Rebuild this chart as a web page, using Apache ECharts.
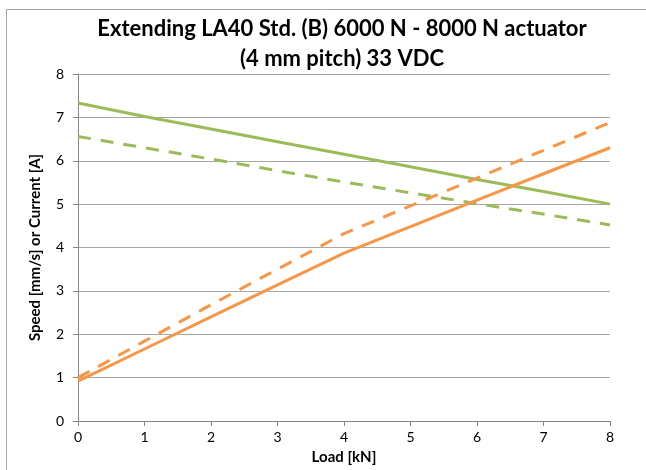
<!DOCTYPE html>
<html>
<head>
<meta charset="utf-8">
<script src="https://cdn.jsdelivr.net/npm/echarts@6/dist/echarts.min.js"></script>
<style>html,body{margin:0;padding:0;background:#fff;}#c{width:646px;height:470px;}</style>
</head>
<body>
<div id="c"></div>
<script>
var loads = [0, 1, 2, 3, 4, 5, 6, 7, 8];
var greenSolid = [7.33, 7.02, 6.73, 6.44, 6.15, 5.86, 5.57, 5.29, 5.0];
var greenDashed = [6.56, 6.30, 6.04, 5.77, 5.51, 5.26, 5.01, 4.77, 4.52];
var orangeSolid = [0.92, 1.66, 2.40, 3.14, 3.87, 4.48, 5.09, 5.70, 6.30];
var orangeDashed = [1.0, 1.84, 2.68, 3.50, 4.32, 4.96, 5.60, 6.24, 6.88];
var xTicks = [0, 1, 2, 3, 4, 5, 6, 7, 8];
var yTicks = [0, 1, 2, 3, 4, 5, 6, 7, 8];
var titleText = 'Extending LA40 Std. (B) 6000 N - 8000 N actuator\n(4 mm pitch) 33 VDC';

function pairs(vals) { return loads.map(function (x, i) { return [x, vals[i]]; }); }

var FONT = 'Lato, "Open Sans", sans-serif';
var GREEN = '#9BBB59', ORANGE = '#F79646';
var chart = echarts.init(document.getElementById('c'), null, {renderer: 'canvas'});
chart.setOption({
  animation: false,
  backgroundColor: '#fff',
  graphic: [{
    type: 'rect', shape: {x: 6.5, y: 9.5, width: 700, height: 500},
    style: {fill: 'none', stroke: '#A6A6A6', lineWidth: 1}, z: -1
  }],
  title: {
    text: titleText, left: 337, top: 9, textAlign: 'center',
    textStyle: {fontFamily: FONT, fontWeight: 'bold', fontSize: 22, lineHeight: 30, color: '#000'}
  },
  grid: {left: 78, right: 36, top: 74, bottom: 49},
  xAxis: {
    type: 'value', min: 0, max: 8, interval: 1,
    name: 'Load [kN]', nameLocation: 'middle', nameGap: 29,
    nameTextStyle: {fontFamily: FONT, fontWeight: 'bold', fontSize: 15, color: '#000'},
    axisLine: {lineStyle: {color: '#868686', width: 1}},
    axisTick: {show: true, length: 5, lineStyle: {color: '#868686'}},
    axisLabel: {fontFamily: FONT, fontSize: 14, color: '#000', margin: 9,
      formatter: function (v) { return xTicks.indexOf(v) >= 0 ? String(v) : ''; }},
    splitLine: {show: false}
  },
  yAxis: {
    type: 'value', min: 0, max: 8, interval: 1,
    name: 'Speed [mm/s] or Current [A]', nameLocation: 'middle', nameGap: 35, nameRotate: 90,
    nameTextStyle: {fontFamily: FONT, fontWeight: 'bold', fontSize: 15, color: '#000'},
    axisLine: {show: true, lineStyle: {color: '#868686', width: 1}},
    axisTick: {show: true, length: 5, lineStyle: {color: '#868686'}},
    axisLabel: {fontFamily: FONT, fontSize: 14, color: '#000', margin: 14,
      formatter: function (v) { return yTicks.indexOf(v) >= 0 ? String(v) : ''; }},
    splitLine: {show: true, lineStyle: {color: '#A6A6A6', width: 1}}
  },
  series: [
    {type: 'line', data: pairs(greenSolid), showSymbol: false, lineStyle: {color: GREEN, width: 3}},
    {type: 'line', data: pairs(greenDashed), showSymbol: false, lineStyle: {color: GREEN, width: 3, type: [13, 10]}},
    {type: 'line', data: pairs(orangeSolid), showSymbol: false, lineStyle: {color: ORANGE, width: 3}},
    {type: 'line', data: pairs(orangeDashed), showSymbol: false, lineStyle: {color: ORANGE, width: 3, type: [13, 10]}}
  ]
});
</script>
</body>
</html>
